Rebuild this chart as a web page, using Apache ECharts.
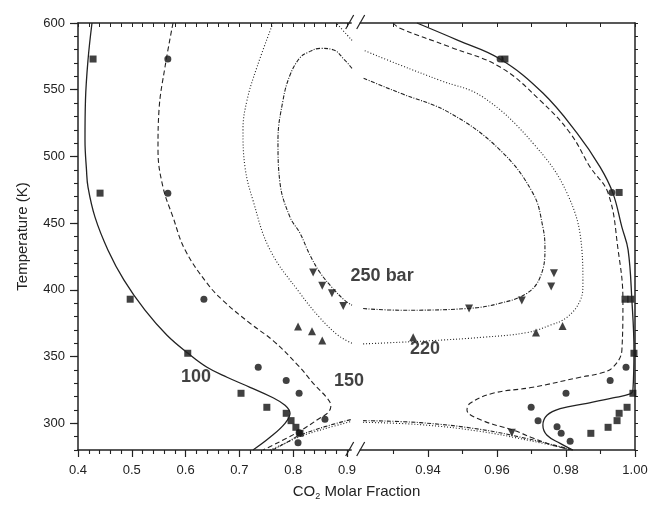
<!DOCTYPE html>
<html>
<head>
<meta charset="utf-8">
<script src="https://cdn.jsdelivr.net/npm/echarts@6/dist/echarts.min.js"></script>
<style>
  html, body { margin: 0; padding: 0; background: #fff; }
  #main { width: 653px; height: 508px; }
</style>
</head>
<body>
<div id="main"></div>
<script>
// CO2 molar fraction vs temperature (K), broken x axis 0.4-0.91 | 0.92-1.00
const xMajor = [0.4, 0.5, 0.6, 0.7, 0.8, 0.9, 0.94, 0.96, 0.98, 1.00]
const xMajorLabels = ['0.4', '0.5', '0.6', '0.7', '0.8', '0.9', '0.94', '0.96', '0.98', '1.00']
const xMinor = [0.42, 0.44, 0.46, 0.48, 0.52, 0.54, 0.56, 0.58, 0.62, 0.64, 0.66, 0.68,
  0.72, 0.74, 0.76, 0.78, 0.82, 0.84, 0.86, 0.88, 0.93, 0.95, 0.97, 0.99]
const yMajor = [300, 350, 400, 450, 500, 550, 600]
const yMinor = [280, 290, 300, 310, 320, 330, 340, 350, 360, 370, 380, 390, 400, 410, 420,
  430, 440, 450, 460, 470, 480, 490, 500, 510, 520, 530, 540, 550, 560, 570, 580, 590, 600]

// calculated isobars, each one a list of segments [x, T]
const curve100 = [
  [[0.426, 600], [0.4186, 572.25], [0.4139, 542.25], [0.413, 512.25], [0.4158, 489.75], [0.4186, 477],
    [0.4316, 454.5], [0.4558, 429.75], [0.4855, 407.25], [0.5245, 384.75], [0.5654, 366], [0.6045, 352.5],
    [0.6398, 342], [0.677, 334.5], [0.7197, 327], [0.7606, 319.5], [0.7848, 313.5], [0.7941, 307.5],
    [0.7848, 300], [0.7569, 289.5], [0.7253, 280]],
  [[0.9368, 600], [0.9487, 587], [0.9609, 573], [0.9733, 547.5], [0.9832, 517.5], [0.9899, 492],
    [0.9936, 472.5], [0.9962, 447], [0.9980, 430], [0.9991, 392], [0.9997, 355], [0.9994, 325],
    [0.9986, 322], [0.9936, 319], [0.9861, 315], [0.9783, 311], [0.9745, 306], [0.9733, 298.5],
    [0.9745, 291], [0.9783, 285], [0.9820, 280]]
]
const curve150 = [
  [[0.5766, 600], [0.5617, 567], [0.5506, 535], [0.5487, 505], [0.558, 477], [0.5766, 454.5],
    [0.5989, 430], [0.6398, 405], [0.6695, 392], [0.7197, 375], [0.7625, 362], [0.8089, 343.5],
    [0.8405, 328.5], [0.8628, 319], [0.870, 313], [0.8647, 308], [0.850, 304], [0.8071, 293], [0.7439, 280]],
  [[0.9299, 600], [0.9319, 596], [0.9464, 582], [0.9609, 567], [0.9725, 542], [0.9812, 517.5],
    [0.987, 492], [0.9922, 472.5], [0.9951, 430], [0.9965, 392], [0.9962, 355], [0.9936, 342],
    [0.9899, 337.5], [0.9841, 334.5], [0.9704, 327], [0.9588, 322.5], [0.9522, 315], [0.9513, 310],
    [0.9559, 302], [0.9646, 295], [0.9704, 289], [0.9762, 283.5], [0.982, 280]]
]
const curve220 = [
  [[0.7625, 600], [0.7327, 567], [0.7141, 542], [0.7067, 520], [0.7104, 492], [0.7253, 467],
    [0.7569, 430], [0.8126, 397.5], [0.8498, 379], [0.8833, 366], [0.9093, 360]],
  [[0.9212, 359.5], [0.9319, 360.75], [0.9414, 362], [0.9559, 364.5], [0.9687, 368], [0.9754, 373.5],
    [0.9803, 379.5], [0.9841, 392], [0.9849, 405], [0.9846, 430], [0.9803, 472.5], [0.9704, 510],
    [0.9559, 544.5], [0.9435, 557], [0.9319, 568.5], [0.9212, 579.75]],
  [[0.9093, 587], [0.8833, 598.5], [0.8796, 600]],
  [[0.7569, 280], [0.7848, 285], [0.8126, 290], [0.8591, 296], [0.9093, 301.5]],
  [[0.9212, 300.75], [0.9377, 299], [0.955, 294], [0.9696, 287], [0.982, 280]]
]
const curve250 = [
  [[0.9093, 566], [0.8963, 572], [0.874, 580], [0.8498, 581], [0.8275, 578], [0.8126, 574],
    [0.7941, 561], [0.781, 542], [0.7717, 512], [0.7755, 480], [0.7941, 454.5], [0.8126, 442.5],
    [0.8312, 426], [0.8498, 413], [0.874, 401], [0.8963, 392], [0.9093, 388.5]],
  [[0.9212, 386], [0.9319, 384.75], [0.9513, 386], [0.9609, 390], [0.9687, 397.5], [0.9725, 409.5],
    [0.9739, 430], [0.9733, 447], [0.9704, 472.5], [0.9609, 504.75], [0.9464, 532.5], [0.9319, 547.5],
    [0.9261, 553.5], [0.9212, 558.75]],
  [[0.762, 280], [0.787, 285.5], [0.8126, 291], [0.8591, 297.5], [0.9093, 303]],
  [[0.9212, 302], [0.9377, 300.5], [0.955, 295.5], [0.9696, 288], [0.982, 280]]
]

// experimental points
const sq100 = [[0.428, 573], [0.441, 472.5], [0.497, 393], [0.604, 352.5], [0.703, 322.5], [0.751, 312],
  [0.787, 307.5], [0.796, 302], [0.805, 297], [0.8126, 292.5],
  [0.9623, 573], [0.9954, 473], [0.9971, 393], [0.9988, 393], [0.9997, 352.5], [0.9994, 322.5],
  [0.9977, 312], [0.9954, 307.5], [0.9948, 302], [0.9922, 297], [0.9872, 292.5]]
const ci150 = [[0.567, 573], [0.567, 472.5], [0.634, 393], [0.735, 342], [0.787, 332], [0.811, 322.5],
  [0.859, 303], [0.811, 293], [0.809, 285.5],
  [0.9609, 573], [0.9933, 473], [0.9974, 342], [0.9928, 332], [0.98, 322.5], [0.9699, 312],
  [0.9719, 302], [0.9774, 297.5], [0.9786, 292.5], [0.9812, 286.5]]
const tu220 = [[0.809, 372.5], [0.835, 369], [0.854, 362], [0.9357, 364.5], [0.9713, 368], [0.979, 373]]
const td250 = [[0.837, 413], [0.854, 403], [0.872, 397.5], [0.893, 388],
  [0.9519, 386], [0.9672, 392], [0.9757, 402.5], [0.9765, 412.5], [0.9643, 293]]

// isobar labels
const annText = ['100', '150', '220', '250 bar']
const annX = [0.6193, 0.9037, 0.9391, 0.9267]
const annT = [334.5, 331.5, 355.5, 410.25]

// broken axis -> one continuous coordinate
function u(x) {
  return x <= 0.915 ? (x - 0.4) * 538 : 281 + (x - 0.92) * 3450
}
const U_MAX = u(1.0)
const BREAK_U = (u(0.91) + u(0.92)) / 2

const FONT = '"Liberation Sans", Arial, Helvetica, sans-serif'
const INK = '#222'
const axisLineStyle = { color: INK, width: 1.5 }

const labelMap = {}
xMajor.forEach((x, i) => { labelMap[u(x).toFixed(2)] = xMajorLabels[i] })

const chart = echarts.init(document.getElementById('main'), null, { renderer: 'canvas' })

const lineSeries = []
const styles = [
  { curve: curve100, type: 'solid', width: 1.3 },
  { curve: curve150, type: [5, 3], width: 1.1 },
  { curve: curve220, type: [1, 2], width: 1.1 },
  { curve: curve250, type: [4, 1.5, 1, 1.5], width: 1.1 }
]
styles.forEach(s => {
  s.curve.forEach(seg => {
    lineSeries.push({
      type: 'line',
      data: seg.map(p => [u(p[0]), p[1]]),
      smooth: 0.4,
      symbol: 'none',
      silent: true,
      lineStyle: { color: INK, width: s.width, type: s.type }
    })
  })
})

function pts(list, symbol, size, rotate) {
  return {
    type: 'scatter',
    data: list.map(p => [u(p[0]), p[1]]),
    symbol: symbol,
    symbolSize: size,
    symbolRotate: rotate || 0,
    silent: true,
    itemStyle: { color: '#111' }
  }
}

chart.setOption({
  animation: false,
  backgroundColor: '#fff',
  grid: { left: 78, right: 18, top: 23, bottom: 58 },
  xAxis: [
    {
      type: 'value', min: 0, max: U_MAX, position: 'bottom',
      axisLine: { show: true, onZero: false, lineStyle: axisLineStyle },
      axisTick: { show: true, customValues: xMajor.map(u), length: 7, lineStyle: { color: INK, width: 1.2 } },
      axisLabel: {
        customValues: xMajor.map(u),
        formatter: v => labelMap[v.toFixed(2)] || '',
        margin: 14, color: INK, fontSize: 13, fontFamily: FONT
      },
      splitLine: { show: false },
      name: '{a|CO}{s|2}{a| Molar Fraction}',
      nameLocation: 'middle', nameGap: 32,
      nameTextStyle: {
        color: INK, fontFamily: FONT,
        rich: {
          a: { fontSize: 15, color: INK, fontFamily: FONT },
          s: { fontSize: 9, color: INK, fontFamily: FONT, padding: [10, 0, 0, 0] }
        }
      }
    },
    {
      type: 'value', min: 0, max: U_MAX, position: 'bottom',
      axisLine: { show: false, onZero: false },
      axisTick: { show: true, customValues: xMinor.map(u), length: 4, lineStyle: { color: INK, width: 1.1 } },
      axisLabel: { show: false },
      splitLine: { show: false }
    },
    {
      type: 'value', min: 0, max: U_MAX, position: 'top',
      axisLine: { show: true, onZero: false, lineStyle: axisLineStyle },
      axisTick: { show: true, inside: true, customValues: xMajor.concat(xMinor).map(u), length: 4, lineStyle: { color: INK, width: 1 } },
      axisLabel: { show: false },
      splitLine: { show: false }
    }
  ],
  yAxis: [
    {
      type: 'value', min: 280, max: 600, position: 'left',
      axisLine: { show: true, onZero: false, lineStyle: axisLineStyle },
      axisTick: { show: true, customValues: yMajor, length: 8, lineStyle: { color: INK, width: 1.2 } },
      axisLabel: { customValues: yMajor, margin: 13, color: INK, fontSize: 13, fontFamily: FONT },
      splitLine: { show: false },
      name: 'Temperature (K)', nameLocation: 'middle', nameGap: 48,
      nameTextStyle: { color: INK, fontSize: 15, fontFamily: FONT }
    },
    {
      type: 'value', min: 280, max: 600, position: 'left',
      axisLine: { show: false, onZero: false },
      axisTick: { show: true, customValues: yMinor, length: 4, lineStyle: { color: INK, width: 1.1 } },
      axisLabel: { show: false },
      splitLine: { show: false }
    },
    {
      type: 'value', min: 280, max: 600, position: 'right',
      axisLine: { show: true, onZero: false, lineStyle: axisLineStyle },
      axisTick: { show: true, customValues: yMinor, length: 3, lineStyle: { color: INK, width: 1 } },
      axisLabel: { show: false },
      splitLine: { show: false }
    }
  ],
  series: lineSeries.concat([
    pts(sq100, 'rect', 7),
    pts(ci150, 'circle', 7),
    pts(tu220, 'triangle', 8),
    pts(td250, 'triangle', 8, 180),
    {
      type: 'scatter',
      symbolSize: 0,
      silent: true,
      data: annText.map((t, i) => ({ name: t, value: [u(annX[i]), annT[i]] })),
      label: {
        show: true, position: 'inside', formatter: p => p.name,
        fontSize: 18, fontWeight: 'bold', color: '#111', fontFamily: FONT,
        textBorderWidth: 0
      }
    }
  ])
})

// axis break marks (//) on bottom and top frame
const cx = chart.convertToPixel({ xAxisIndex: 0 }, BREAK_U)
const yb = chart.convertToPixel({ yAxisIndex: 0 }, 280)
const yt = chart.convertToPixel({ yAxisIndex: 0 }, 600)
const brk = []
;[yb, yt].forEach(y => {
  brk.push({ type: 'rect', shape: { x: cx - 4, y: y - 2, width: 8, height: 4 }, style: { fill: '#fff' }, z: 100 })
  brk.push({ type: 'line', shape: { x1: cx - 10, y1: y + 6, x2: cx - 2, y2: y - 8 }, style: { stroke: INK, lineWidth: 1.2 }, z: 101 })
  brk.push({ type: 'line', shape: { x1: cx + 1, y1: y + 6, x2: cx + 9, y2: y - 8 }, style: { stroke: INK, lineWidth: 1.2 }, z: 101 })
})
chart.setOption({ graphic: brk })
</script>
</body>
</html>
